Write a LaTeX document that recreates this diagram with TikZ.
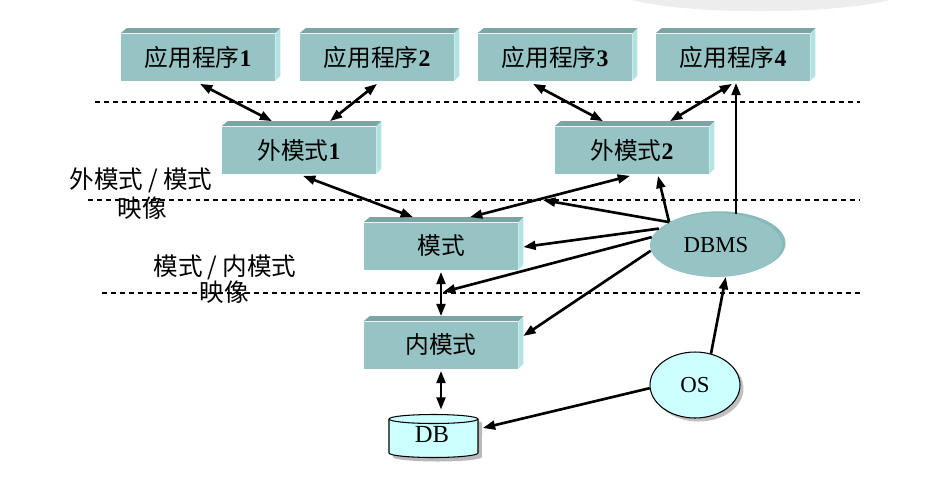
\documentclass[tikz,border=0pt]{standalone}
\usepackage{fontspec}
\setmainfont{Liberation Serif}
\newfontfamily\cjk{Noto Sans CJK SC}
\usetikzlibrary{arrows.meta,shadows,shapes.geometric}
\definecolor{boxfront}{HTML}{96C3C3}
\definecolor{boxtop}{HTML}{7BA5A5}
\definecolor{boxside}{HTML}{B4E1E1}
\definecolor{dbmsrim}{HTML}{8AB9B9}
\definecolor{lightcyan}{HTML}{CCFFFF}
\begin{document}
\begin{tikzpicture}[x=0.02cm,y=-0.02cm,
    tbox/.style={fill=boxfront, minimum width=3.08cm, minimum height=0.94cm, inner sep=0pt, font=\fontsize{13.5}{16}\selectfont},
    tip/.tip={Triangle[length=7pt,width=5pt]},
    arr/.style={line width=1.5pt, -tip},
    darr/.style={line width=1.5pt, tip-tip},
    sep/.style={dash pattern=on 2.8pt off 2.3pt, line width=0.6pt},
    maplbl/.style={font=\cjk\fontsize{14}{16}\selectfont, inner sep=0pt}]
  \useasboundingbox (0,0) rectangle (926,484);
  % slide background
  \fill[gray!14] (632,0) .. controls (690,15) and (830,15) .. (890,0) -- cycle;
  % separators
  \draw[sep] (95,102) -- (860,102);
  \draw[sep] (88,200) -- (860,200);
  \draw[sep] (102,293) -- (860,293);
  \node[maplbl] (lbl1) at (141,180) {外模式\hspace{0.2em}/\hspace{0.2em}模式};
  \node[maplbl] (lbl1b) at (142,208) {映像};
  \node[maplbl] (lbl2) at (225,267) {模式\hspace{0.2em}/\hspace{0.2em}内模式};
  \node[maplbl] (lbl2b) at (224,292) {映像};
  % levels
  \node[tbox] (app1) at (198,57) {{\cjk 应用程序}\textbf{1}};
  \node[tbox] (app2) at (377,57) {{\cjk 应用程序}\textbf{2}};
  \node[tbox] (app3) at (555,57) {{\cjk 应用程序}\textbf{3}};
  \node[tbox] (app4) at (733,57) {{\cjk 应用程序}\textbf{4}};
  \node[tbox] (ext1) at (299,150) {{\cjk 外模式}\textbf{1}};
  \node[tbox] (ext2) at (632,150) {{\cjk 外模式}\textbf{2}};
  \node[tbox] (con) at (441,246) {\cjk 模式};
  \node[tbox] (int) at (441,345) {\cjk 内模式};
  \foreach \n in {app1,app2,app3,app4,ext1,ext2,con,int} {
    \fill[boxtop] (\n.north west) -- ++(6,-5) -- ([shift={(5,-5)}]\n.north east) -- (\n.north east) -- cycle;
    \fill[boxside] (\n.north east) -- ++(5,-5) -- ([shift={(5,-5)}]\n.south east) -- (\n.south east) -- cycle;
  }
  % DB
  \fill[gray!55] (393,423) -- (393,457) arc[start angle=180,end angle=360,x radius=0.89cm,y radius=0.09cm]
    -- (482,423) arc[start angle=0,end angle=180,x radius=0.89cm,y radius=0.09cm] -- cycle;
  \fill[lightcyan] (389,419) -- (389,453) arc[start angle=180,end angle=360,x radius=0.89cm,y radius=0.09cm]
    -- (478,419) arc[start angle=0,end angle=180,x radius=0.89cm,y radius=0.09cm] -- cycle;
  \draw[line width=0.6pt] (389,419) -- (389,453) arc[start angle=180,end angle=360,x radius=0.89cm,y radius=0.09cm] -- (478,419);
  \draw[line width=0.6pt] (433.5,419) ellipse[x radius=0.89cm,y radius=0.09cm];
  \node[inner sep=0pt, minimum width=1.78cm, minimum height=0.84cm, font=\fontsize{14}{16}\selectfont] (db) at (432,434) {DB};
  % DBMS and OS
  \node[ellipse, fill=boxfront, minimum width=2.64cm, minimum height=1.28cm, inner sep=0pt,
    copy shadow={shadow xshift=2pt, shadow yshift=1pt, fill=dbmsrim, draw=none},
    font=\fontsize{13}{15}\selectfont] (dbms) at (716,245) {DBMS};
  \node[ellipse, fill=lightcyan, draw, line width=0.6pt, minimum width=1.8cm, minimum height=1.32cm, inner sep=0pt,
    drop shadow={shadow xshift=2pt, shadow yshift=-2pt},
    font=\fontsize{13}{15}\selectfont] (os) at (695,385) {OS};
  \coordinate (map1) at (543,200);
  \coordinate (map2) at (443,292);
  \coordinate (app4foot) at (dbms.57 |- app4.south);
  \coordinate (dbtop) at (int.south |- db.north);
  % connectors
  \draw[darr] ([shift={(2,3)}]app1.south) -- ([shift={(-27,-5)}]ext1.north);
  \draw[darr] ([shift={(0,3)}]app2.south) -- ([shift={(31,-5)}]ext1.north);
  \draw[darr] ([shift={(-22,3)}]app3.south) -- ([shift={(-29,-5)}]ext2.north);
  \draw[darr] ([shift={(-1,3)}]app4.south) -- ([shift={(38,-5)}]ext2.north);
  \draw[arr] (dbms.57) -- ([shift={(0,2)}]app4foot);
  \draw[darr] ([shift={(4,2)}]ext1.south) -- ([shift={(-28,-5)}]con.north);
  \draw[darr] ([shift={(-2,2)}]ext2.south) -- ([shift={(29,-5)}]con.north);
  \draw[arr] (dbms.154) -- ([shift={(26,2)}]ext2.south);
  \draw[arr] (dbms.154) -- (map1);
  \draw[arr] (dbms.164) -- ([shift={(5,1)}]con.east);
  \draw[arr] (dbms.173) -- (map2);
  \draw[arr] (dbms.185) -- ([shift={(5,-9)}]int.east);
  \draw[darr] ([shift={(0,2)}]con.south) -- ([shift={(0,-5)}]int.north);
  \draw[darr] ([shift={(0,2)}]int.south) -- ([shift={(0,-3)}]dbtop);
  \draw[arr] (os.184) -- ([shift={(6,-6)}]db.east);
  \draw[arr] (os.63) -- (dbms.-73);
\end{tikzpicture}
\end{document}
